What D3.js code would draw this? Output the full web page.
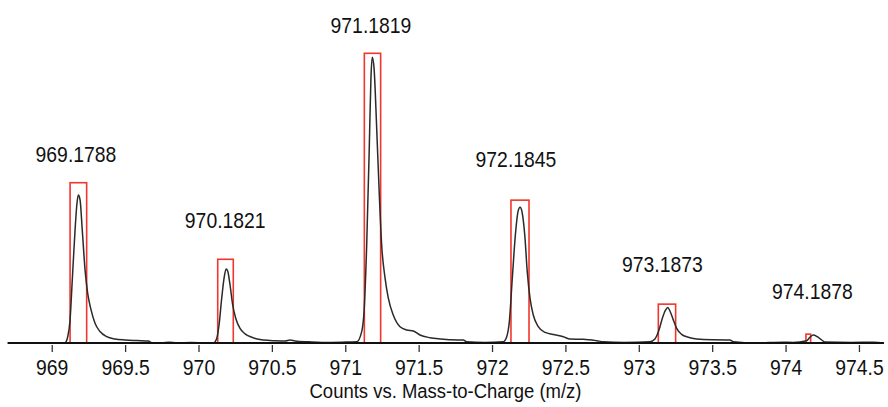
<!DOCTYPE html>
<html>
<head>
<meta charset="utf-8">
<script src="https://cdn.jsdelivr.net/npm/d3@7"></script>
<style>
  body { margin: 0; background: #fff; }
  text { font-family: "Liberation Sans", Arial, sans-serif; fill: #111; }
</style>
</head>
<body>
<div id="chart"></div>
<script>
// profile trace, [m/z, relative abundance %]
var trace = [
  [968.70, 0], [969.080, 0],
  [969.091, 0.1], [969.109, 2.2], [969.125, 8.1], [969.140, 22.1], [969.159, 39.6], [969.172, 48.9],
  [969.181, 51.8], [969.193, 50.1], [969.208, 39.6], [969.227, 25.6], [969.245, 17.4], [969.268, 11.6],
  [969.295, 6.9], [969.329, 4.0], [969.375, 2.2], [969.431, 1.4], [969.499, 1.05], [969.580, 0.85],
  [969.658, 0.7], [969.681, 0.1], [969.750, 0], [969.800, 0.3], [969.850, 0], [969.950, 0.2], [970.050, 0],
  [970.101, 0], [970.124, 1.6], [970.140, 6.3], [970.158, 15.6], [970.174, 22.6], [970.188, 25.9],
  [970.199, 25.2], [970.215, 20.3], [970.233, 13.3], [970.254, 8.6], [970.283, 5.1], [970.317, 3.2],
  [970.363, 2.0], [970.408, 1.3], [970.442, 1.05], [970.520, 0.8], [970.590, 0.7], [970.624, 1.05],
  [970.658, 0.7], [970.750, 0.4], [970.840, 0.2], [970.980, 0.3],
  [971.078, 0.45], [971.112, 4.0], [971.128, 11.0], [971.146, 34.3], [971.164, 69.3], [971.175, 92.8],
  [971.184, 100], [971.196, 96.3], [971.214, 75.3], [971.232, 51.8], [971.248, 34.3], [971.271, 22.8],
  [971.293, 15.8], [971.327, 9.8], [971.373, 5.7], [971.419, 4.55], [971.464, 4.2], [971.509, 2.8],
  [971.577, 1.86], [971.646, 1.4], [971.720, 1.1], [971.804, 1.05], [971.827, 0.45], [971.950, 0.2],
  [972.077, 0.45], [972.100, 2.2], [972.118, 7.5], [972.138, 22.6], [972.159, 37.8], [972.177, 46.0],
  [972.191, 47.5], [972.204, 46.0], [972.223, 37.8], [972.240, 25.0], [972.259, 15.6], [972.281, 9.8],
  [972.315, 5.7], [972.361, 3.7], [972.417, 3.0], [972.486, 2.2], [972.531, 1.4], [972.622, 1.3],
  [972.713, 0.8], [972.758, 0.45], [972.900, 0.2],
  [973.076, 0.45], [973.110, 1.4], [973.138, 4.6], [973.160, 8.6], [973.183, 11.6], [973.197, 12.4],
  [973.212, 11.2], [973.235, 8.1], [973.258, 5.1], [973.292, 3.0], [973.337, 2.0], [973.394, 1.4],
  [973.500, 1.1], [973.621, 1.05], [973.644, 0.45], [973.800, 0], [973.980, 0.3], [974.050, 0.2],
  [974.144, 0.8], [974.166, 2.0], [974.189, 2.8], [974.216, 2.2], [974.246, 1.05], [974.268, 0.35],
  [974.450, 0.2], [974.600, 0.3], [974.67, 0]
];

// theoretical isotope boxes
var boxLo     = [969.125, 970.131, 971.130, 972.129, 973.133, 974.139];
var boxHi     = [969.238, 970.237, 971.241, 972.252, 973.251, 974.171];
var boxHeight = [56.1, 29.3, 101.4, 50.0, 13.6, 3.1];

// peak labels
var peakLabels = ["969.1788", "970.1821", "971.1819", "972.1845", "973.1873", "974.1878"];
var labelMz    = [969.165, 970.182, 971.175, 972.163, 973.161, 974.183];

var xTicks = [969, 969.5, 970, 970.5, 971, 971.5, 972, 972.5, 973, 973.5, 974, 974.5];

var width = 888, height = 407;
var baseY = 343;
var squeeze = 0.88; // narrow type like the original
var labelGap = [21, 31, 20, 33, 32, 35];

var svg = d3.select("#chart")
  .append("svg")
    .attr("width", width)
    .attr("height", height);

var x = d3.scaleLinear()
  .domain([968.7, 974.67])
  .range([7.7, 883.9]);

var y = d3.scaleLinear()
  .domain([0, 100])
  .range([baseY, 57.3]);

// red boxes
svg.selectAll(".box")
  .data(boxLo)
  .enter()
  .append("rect")
    .attr("class", "box")
    .attr("x", function(d) { return x(d); })
    .attr("y", function(d, i) { return y(boxHeight[i]); })
    .attr("width", function(d, i) { return x(boxHi[i]) - x(d); })
    .attr("height", function(d, i) { return y(0) - y(boxHeight[i]); })
    .attr("fill", "none")
    .attr("stroke", "#f0362e")
    .attr("stroke-width", 1.6);

// spectrum
var line = d3.line()
  .x(function(d) { return x(d[0]); })
  .y(function(d) { return y(d[1]); })
  .curve(d3.curveMonotoneX);

svg.append("path")
  .datum(trace)
  .attr("d", line)
  .attr("fill", "none")
  .attr("stroke", "#2a2a2a")
  .attr("stroke-width", 1.5);

// axis
svg.append("line")
  .attr("x1", x.range()[0])
  .attr("x2", x.range()[1])
  .attr("y1", baseY)
  .attr("y2", baseY)
  .attr("stroke", "#111")
  .attr("stroke-width", 2);

var xAxis = svg.append("g")
  .attr("transform", "translate(0," + (baseY + 2) + ")")
  .call(d3.axisBottom(x)
    .tickValues(xTicks)
    .tickFormat(d3.format(""))
    .tickSize(7)
    .tickPadding(7));

xAxis.select(".domain").remove();
xAxis.selectAll(".tick line").attr("stroke", "#333").attr("stroke-width", 1.3);
xAxis.selectAll(".tick text")
  .attr("transform", "scale(" + squeeze + ",1)")
  .style("font-size", "22px")
  .style("font-family", "'Liberation Sans', Arial, sans-serif")
  .attr("fill", "#111");

svg.append("text")
  .attr("transform", "translate(445.5,398) scale(" + squeeze + ",1)")
  .attr("text-anchor", "middle")
  .style("font-size", "21px")
  .text("Counts vs. Mass-to-Charge (m/z)");

// peak labels
svg.selectAll(".peakLabel")
  .data(peakLabels)
  .enter()
  .append("text")
    .attr("class", "peakLabel")
    .attr("transform", function(d, i) {
      return "translate(" + x(labelMz[i]) + "," + (y(boxHeight[i]) - labelGap[i]) + ") scale(" + squeeze + ",1)";
    })
    .attr("text-anchor", "middle")
    .style("font-size", "22px")
    .text(function(d) { return d; });
</script>
</body>
</html>
